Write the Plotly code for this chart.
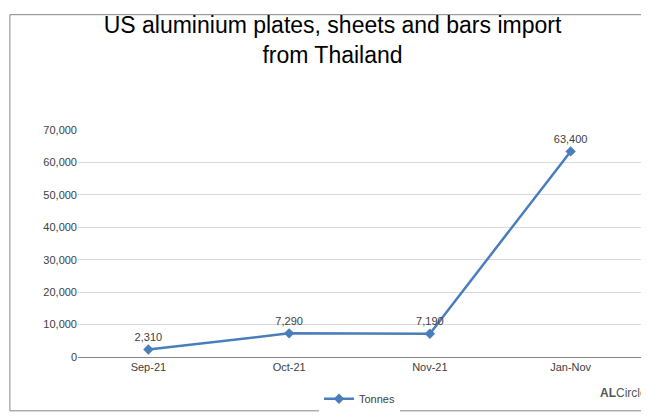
import plotly.graph_objects as go

months = ["Sep-21", "Oct-21", "Nov-21", "Jan-Nov"]
tonnes = [2310, 7290, 7190, 63400]
labels = ["2,310", "7,290", "7,190", "63,400"]

xpos = list(range(len(months)))

fig = go.Figure()
fig.add_trace(go.Scatter(
    x=xpos, y=tonnes, mode="lines+markers+text", name="Tonnes",
    text=labels, textposition="top center",
    textfont=dict(size=11, color="#404040"),
    line=dict(color="#4a7ebb", width=2.5),
    marker=dict(symbol="diamond", size=8, color="#4a7ebb"),
))

fig.update_layout(
    width=649, height=417,
    margin=dict(l=70, r=16, t=122, b=59),
    paper_bgcolor="white", plot_bgcolor="white",
    font=dict(family="Liberation Sans, Arial", color="#404040"),
    title=dict(text="US aluminium plates, sheets and bars import<br>from Thailand",
               x=0.5, xanchor="center", y=0.94, yanchor="top",
               font=dict(size=23, color="black")),
    showlegend=True,
    legend=dict(orientation="h", x=0.5, xanchor="center", y=-0.12, yanchor="top",
                font=dict(size=11)),
    xaxis=dict(range=[-0.5, 3.5], tickvals=xpos, ticktext=months,
               showline=True, linecolor="#868686", tickfont=dict(size=11),
               showgrid=False, zeroline=False),
    yaxis=dict(range=[0, 70000], dtick=10000, tickformat=",",
               gridcolor="#d9d9d9", tickfont=dict(size=11), zeroline=False),
    shapes=[dict(type="rect", xref="paper", yref="paper", x0=-0.121, x1=1.023,
                 y0=-0.237, y1=1.508, line=dict(color="#868686", width=1))],
)
fig.add_annotation(text="<b>AL</b>Circle", xref="paper", yref="paper", x=1.015, y=-0.2,
                   xanchor="right", showarrow=False, font=dict(size=12, color="#555"))

fig.write_html("out.html")
